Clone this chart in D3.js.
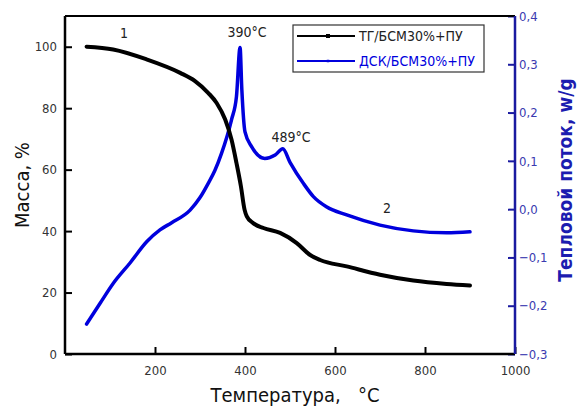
<!DOCTYPE html>
<html>
<head>
<meta charset="utf-8">
<script src="https://cdn.jsdelivr.net/npm/d3@7"></script>
<style>
body { margin: 0; background: #fff; }
text { font-family: "DejaVu Sans Condensed", "DejaVu Sans", sans-serif; }
</style>
</head>
<body>
<div id="chart"></div>
<script>
// TG curve: temperature (°C) vs mass (%)
var tgTemp = [48, 107, 181, 256, 289, 318, 337, 356, 370, 381, 391, 399, 404, 418, 441, 478, 515, 544, 567, 626, 700, 774, 848, 900];
var tgMass = [100, 99.1, 95.9, 91.5, 88.8, 85, 81.7, 76.3, 69.8, 62.2, 54.5, 47, 44.8, 42.6, 41, 39.4, 36.1, 32.3, 30.6, 28.5, 25.8, 23.9, 22.8, 22.3];
// DSC curve: temperature (°C) vs heat flow (w/g)
var dscTemp = [48, 78, 107, 144, 182, 211, 237, 278, 300, 318, 333, 348, 370, 381, 389, 393, 400, 415, 444, 467, 484, 500, 530, 552, 581, 626, 700, 774, 848, 900];
var dscFlow = [-0.238, -0.195, -0.154, -0.112, -0.067, -0.043, -0.028, -0.002, 0.024, 0.053, 0.080, 0.116, 0.185, 0.233, 0.335, 0.247, 0.160, 0.129, 0.105, 0.112, 0.125, 0.097, 0.053, 0.026, 0.005, -0.012, -0.033, -0.045, -0.049, -0.047];

var xTicks = [200, 400, 600, 800, 1000];
var yLeftTicks = [0, 20, 40, 60, 80, 100];
var yRightTicks = [-0.3, -0.2, -0.1, 0.0, 0.1, 0.2, 0.3, 0.4];
var seriesNames = ["ТГ/БСМ30%+ПУ", "ДСК/БСМ30%+ПУ"];

var W = 577, H = 412;
var m = {left: 65, right: 62, top: 16, bottom: 58};
var blue = "#0000dd", navy = "#1a1aa0";

var svg = d3.select("#chart").append("svg").attr("width", W).attr("height", H);

var x = d3.scaleLinear().domain([0, 1000]).range([m.left, W - m.right]);
var yL = d3.scaleLinear().domain([0, 110]).range([H - m.bottom, m.top]);
var yR = d3.scaleLinear().domain([-0.3, 0.4]).range([H - m.bottom, m.top]);

var fmtR = function(d) { return d3.format(".1f")(d).replace(".", ",").replace("-", "\u2212"); };

// bottom axis
var gx = svg.append("g").attr("transform", "translate(0," + (H - m.bottom) + ")");
gx.call(d3.axisBottom(x).tickValues(d3.range(100, 1001, 100)).tickSize(-4).tickFormat(""));
gx.call(d3.axisBottom(x).tickValues(xTicks).tickSize(-7).tickPadding(12).tickFormat(d3.format("d")));
// left axis
var gl = svg.append("g").attr("transform", "translate(" + m.left + ",0)");
gl.call(d3.axisLeft(yL).tickValues(d3.range(10, 110, 10)).tickSize(-4).tickFormat(""));
gl.call(d3.axisLeft(yL).tickValues(yLeftTicks).tickSize(-7).tickPadding(8));
// right axis
var gr = svg.append("g").attr("transform", "translate(" + (W - m.right) + ",0)");
gr.call(d3.axisRight(yR).tickValues(d3.range(-0.25, 0.4, 0.1)).tickSize(-4).tickFormat(""));
gr.call(d3.axisRight(yR).tickValues(yRightTicks).tickSize(-7).tickPadding(4).tickFormat(fmtR));

svg.selectAll("g path.domain").remove();
gx.selectAll("line").attr("stroke", "#000").attr("stroke-width", 2);
gl.selectAll("line").attr("stroke", "#000").attr("stroke-width", 2);
gr.selectAll("line").attr("stroke", navy).attr("stroke-width", 2);
gx.selectAll("text").attr("font-size", 13).attr("fill", "#333");
gl.selectAll("text").attr("font-size", 13).attr("fill", "#333");
gr.selectAll("text").attr("font-size", 13).attr("fill", "#3a3ab0");

// frame
svg.append("line").attr("x1", m.left).attr("x2", W - m.right).attr("y1", m.top).attr("y2", m.top).attr("stroke", "#000").attr("stroke-width", 2);
svg.append("line").attr("x1", m.left).attr("x2", m.left).attr("y1", m.top).attr("y2", H - m.bottom).attr("stroke", "#000").attr("stroke-width", 2.5);
svg.append("line").attr("x1", m.left).attr("x2", W - m.right).attr("y1", H - m.bottom).attr("y2", H - m.bottom).attr("stroke", "#000").attr("stroke-width", 2.5);
svg.append("line").attr("x1", W - m.right).attr("x2", W - m.right).attr("y1", m.top).attr("y2", H - m.bottom).attr("stroke", navy).attr("stroke-width", 2.5);

// curves
var tgData = tgTemp.map(function(t, i) { return [t, tgMass[i]]; });
var dscData = dscTemp.map(function(t, i) { return [t, dscFlow[i]]; });

svg.append("path").datum(dscData)
  .attr("d", d3.line().x(function(d) { return x(d[0]); }).y(function(d) { return yR(d[1]); }).curve(d3.curveMonotoneX))
  .attr("fill", "none").attr("stroke", blue).attr("stroke-width", 3.5).attr("stroke-linecap", "round").attr("stroke-linejoin", "round");
svg.append("path").datum(tgData)
  .attr("d", d3.line().x(function(d) { return x(d[0]); }).y(function(d) { return yL(d[1]); }).curve(d3.curveMonotoneX))
  .attr("fill", "none").attr("stroke", "#000").attr("stroke-width", 4).attr("stroke-linecap", "round").attr("stroke-linejoin", "round");

// annotations
function note(tx, ty, s) {
  svg.append("text").attr("x", tx).attr("y", ty).attr("text-anchor", "middle")
    .attr("font-size", 14).attr("fill", "#222").text(s);
}
note(124, 38, "1");
note(247, 37, "390°C");
note(291, 142, "489°C");
note(387, 213, "2");

// legend
var lg = svg.append("g");
lg.append("rect").attr("x", 293).attr("y", 25).attr("width", 191).attr("height", 47)
  .attr("fill", "#fff").attr("stroke", "#333").attr("stroke-width", 1.2);
[["#000", 36, 4], [blue, 61, 2.5]].forEach(function(s, i) {
  lg.append("line").attr("x1", 297).attr("x2", 355).attr("y1", s[1]).attr("y2", s[1])
    .attr("stroke", s[0]).attr("stroke-width", 2);
  lg.append("rect").attr("x", 328 - s[2] / 2).attr("y", s[1] - s[2] / 2).attr("width", s[2]).attr("height", s[2]).attr("fill", s[0]);
  lg.append("text").attr("x", 359).attr("y", s[1] + 5).attr("font-size", 14)
    .attr("fill", i === 0 ? "#222" : blue).text(seriesNames[i]);
});

// axis titles
svg.append("text").attr("x", (m.left + W - m.right) / 2 + 5).attr("y", 402).attr("text-anchor", "middle")
  .attr("font-size", 20).attr("fill", "#111").text("Температура,\u00a0\u00a0\u00a0°C");
svg.append("text").attr("transform", "translate(29," + ((m.top + H - m.bottom) / 2) + ") rotate(-90)")
  .attr("text-anchor", "middle").attr("font-size", 20).attr("fill", "#111").text("Масса, %");
svg.append("text").attr("transform", "translate(572," + ((m.top + H - m.bottom) / 2 - 5) + ") rotate(-90)")
  .attr("text-anchor", "middle").attr("font-size", 19).attr("font-weight", "bold").attr("fill", "#1c1cb0").text("Тепловой поток, w/g");
</script>
</body>
</html>
